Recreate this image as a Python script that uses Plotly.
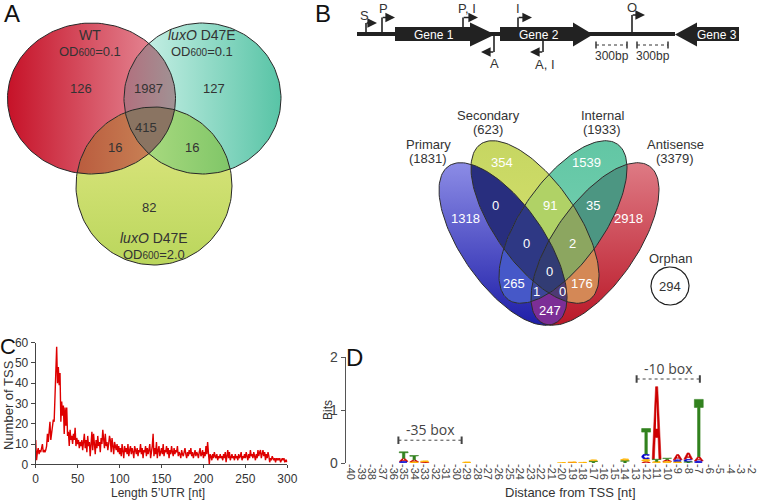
import math
import plotly.graph_objects as go

FONT = "Liberation Sans, Arial, sans-serif"
NARROW = "Liberation Sans Narrow, Arial Narrow, Liberation Sans, sans-serif"

# ---------------- Panel A data ----------------
a_sets = ["WT", "<i>luxO</i> D47E", "<i>luxO</i> D47E"]
a_od = ["0.1", "0.1", "2.0"]
a_region_names = ["WT", "D47E_01", "D47E_20", "WT&D47E_01", "WT&D47E_20", "D47E_01&D47E_20", "all"]
a_region_counts = [126, 127, 82, 1987, 16, 16, 415]

# ---------------- Panel B data ----------------
b_sets = ["Primary", "Secondary", "Internal", "Antisense"]
b_set_sizes = [1831, 623, 1933, 3379]
b_region_names = ["P", "S", "I", "A", "PS", "SI", "IA", "PSI", "SIA", "PSIA",
                  "PI", "SA", "PIA", "PSA", "PA"]
b_region_counts = [1318, 354, 1539, 2918, 0, 91, 35, 0, 2, 0, 265, 176, 1, 0, 247]
b_orphan = 294

# ---------------- Panel C data ----------------
utr_length = list(range(0, 301))
utr_tss = [
    12, 2, 6, 8, 5, 7, 6, 8, 10, 6,
    7, 6, 7, 9, 15, 11, 16, 21, 12, 15,
    20, 22, 21, 38, 44, 58, 40, 48, 39, 45,
    21, 31, 24, 29, 15, 28, 19, 28, 14, 16,
    9, 17, 12, 14, 10, 15, 12, 18, 9, 13,
    10, 12, 8, 11, 9, 12, 7, 10, 15, 8,
    12, 6, 14, 9, 11, 4, 13, 16, 7, 15,
    10, 5, 12, 8, 14, 9, 11, 6, 13, 10,
    17, 12, 8, 15, 9, 11, 7, 10, 14, 12,
    6, 13, 9, 5, 11, 8, 7, 10, 6, 9,
    5, 8, 4, 10, 7, 3, 9, 6, 8, 5,
    10, 4, 7, 9, 5, 8, 6, 3, 9, 7,
    5, 8, 4, 7, 6, 10, 5, 8, 3, 7,
    6, 9, 4, 8, 5, 7, 10, 3, 6, 9,
    15, 4, 8, 5, 11, 3, 7, 9, 4, 6,
    8, 5, 10, 4, 7, 6, 9, 5, 8, 3,
    7, 5, 9, 6, 4, 8, 5, 7, 6, 9,
    4, 6, 5, 3, 7, 5, 4, 6, 8, 5,
    3, 6, 4, 7, 5, 8, 4, 6, 3, 5,
    7, 4, 6, 5, 3, 6, 8, 4, 5, 7,
    3, 6, 4, 9, 5, 11, 3, 0, 5, 4,
    2, 5, 3, 6, 4, 3, 5, 2, 4, 3,
    5, 3, 4, 2, 5, 3, 6, 1, 4, 7,
    3, 6, 2, 4, 5, 3, 4, 2, 5, 3,
    4, 2, 5, 3, 4, 6, 2, 4, 3, 5,
    3, 6, 4, 2, 5, 3, 7, 4, 5, 3,
    6, 4, 2, 5, 3, 7, 4, 6, 7, 3,
    5, 7, 4, 6, 2, 5, 3, 6, 4, 1,
    3, 2, 4, 3, 2, 3, 1, 3, 2, 3,
    2, 3, 1, 2, 3, 2, 3, 1, 2, 2,
    1,
]
c_xticks = [0, 50, 100, 150, 200, 250, 300]
c_yticks = [0, 10, 20, 30, 40, 50, 60]

# ---------------- Panel D data ----------------
d_positions = list(range(-40, 0))
d_tick_labels = [str(p) for p in d_positions]
logo_pos = [-35, -34, -33, -29, -20, -19, -18, -17, -14, -12, -11, -10, -9, -8, -7]
logo_stack = [
    [("C", 0.03), ("A", 0.06), ("T", 0.12)],
    [("G", 0.02), ("A", 0.04), ("T", 0.08)],
    [("A", 0.02), ("G", 0.02)],
    [("G", 0.02)],
    [("G", 0.01)],
    [("A", 0.01), ("G", 0.01)],
    [("G", 0.015)],
    [("T", 0.03), ("G", 0.03)],
    [("T", 0.04), ("G", 0.04)],
    [("A", 0.03), ("G", 0.04), ("C", 0.10), ("T", 0.48)],
    [("G", 0.03), ("T", 0.04), ("A", 1.37)],
    [("G", 0.03), ("A", 0.03), ("T", 0.03)],
    [("G", 0.02), ("C", 0.04), ("A", 0.10)],
    [("T", 0.02), ("C", 0.05), ("A", 0.12)],
    [("C", 0.04), ("A", 0.08), ("T", 1.08)],
]
boxes = [("-35 box", -35.5, -29.5, 0.43), ("-10 box", -12.9, -6.9, 1.585)]

# ================= geometry helpers =================
def ellipse(cx, cy, a, b, theta=0.0, n=160):
    th = math.radians(theta)
    pts = []
    for i in range(n):
        t = 2 * math.pi * i / n
        x = cx + a * math.cos(t) * math.cos(th) - b * math.sin(t) * math.sin(th)
        y = cy + a * math.cos(t) * math.sin(th) + b * math.sin(t) * math.cos(th)
        pts.append((x, y))
    return pts


def _area(poly):
    s = 0
    for i in range(len(poly)):
        x1, y1 = poly[i - 1]
        x2, y2 = poly[i]
        s += x1 * y2 - x2 * y1
    return s


def clip(subject, clipper):
    sgn = 1 if _area(clipper) > 0 else -1
    out = list(subject)
    n = len(clipper)
    for i in range(n):
        a = clipper[i]
        b = clipper[(i + 1) % n]
        inp = out
        out = []
        if not inp:
            break

        def side(p):
            return sgn * ((b[0] - a[0]) * (p[1] - a[1]) - (b[1] - a[1]) * (p[0] - a[0]))

        for j in range(len(inp)):
            cur = inp[j]
            prev = inp[j - 1]
            sc, sp = side(cur), side(prev)
            if sc >= 0:
                if sp < 0:
                    t = sp / (sp - sc)
                    out.append((prev[0] + t * (cur[0] - prev[0]), prev[1] + t * (cur[1] - prev[1])))
                out.append(cur)
            elif sp >= 0:
                t = sp / (sp - sc)
                out.append((prev[0] + t * (cur[0] - prev[0]), prev[1] + t * (cur[1] - prev[1])))
    return out


fig = go.Figure()


def poly_trace(poly, color=None, grad=None, gtype="horizontal", line=None, xa="x", ya="y"):
    xs = [p[0] for p in poly] + [poly[0][0]]
    ys = [p[1] for p in poly] + [poly[0][1]]
    kw = dict(x=xs, y=ys, mode="lines", fill="toself", hoverinfo="skip", showlegend=False,
              xaxis=xa, yaxis=ya)
    if line is None:
        kw["line"] = dict(width=0, color="rgba(0,0,0,0)")
    else:
        kw["line"] = line
    if grad is not None:
        kw["fillgradient"] = dict(type=gtype, colorscale=grad)
    else:
        kw["fillcolor"] = color
    fig.add_trace(go.Scatter(**kw))


def outline(poly, color="rgb(40,40,40)", width=1):
    xs = [p[0] for p in poly] + [poly[0][0]]
    ys = [p[1] for p in poly] + [poly[0][1]]
    fig.add_trace(go.Scatter(x=xs, y=ys, mode="lines", line=dict(color=color, width=width),
                             hoverinfo="skip", showlegend=False))


annotations = []


def txt(x, y, s, size=13, color="#333", family=FONT, angle=0, xref="x", yref="y", xanchor="center"):
    annotations.append(dict(x=x, y=y, xref=xref, yref=yref, text=s, showarrow=False,
                            font=dict(size=size, color=color, family=family), textangle=angle,
                            xanchor=xanchor, yanchor="middle"))


shapes = []


def seg(x0, y0, x1, y1, color="#222", width=1.6, dash=None, xref="x", yref="y"):
    d = dict(type="line", x0=x0, y0=y0, x1=x1, y1=y1, xref=xref, yref=yref,
             line=dict(color=color, width=width))
    if dash:
        d["line"]["dash"] = dash
    shapes.append(d)


# ================= Panel A: 3-set Venn =================
eR = ellipse(91.5, 98.5, 84, 75.5)
eT = ellipse(202.5, 98.5, 78.5, 75.5)
eY = ellipse(154, 186, 78, 79)

poly_trace(eR, grad=[[0, "rgb(198,18,40)"], [1, "rgb(232,150,162)"]])
poly_trace(eT, grad=[[0, "rgb(214,245,238)"], [1, "rgb(88,196,166)"]])
poly_trace(eY, grad=[[0, "rgb(186,214,92)"], [1, "rgb(226,232,132)"]], gtype="vertical")
poly_trace(clip(eR, eT), grad=[[0, "rgb(178,112,126)"], [1, "rgb(160,146,148)"]])
poly_trace(clip(eR, eY), grad=[[0, "rgb(186,92,62)"], [1, "rgb(204,140,92)"]])
poly_trace(clip(eT, eY), grad=[[0, "rgb(178,222,132)"], [1, "rgb(128,198,104)"]])
poly_trace(clip(clip(eR, eT), eY), color="rgb(138,116,98)")
for e in (eR, eT, eY):
    outline(e)

a_label_pos = [(90, 35), (202, 35), (154, 238)]
for (x, y), name, od in zip(a_label_pos, a_sets, a_od):
    txt(x, y, name, size=14)
    txt(x, y + 16, "OD<span style='font-size:10px'>600</span>=" + od, size=13)
a_count_pos = [(81, 88), (214, 88), (149, 207), (148, 88), (115, 147), (192, 147), (146, 127)]
for (x, y), c in zip(a_count_pos, a_region_counts):
    txt(x, y, str(c), size=13)

# ================= Panel B: gene diagram =================
seg(357, 34, 675, 34, width=4)
genes = [
    [(395, 27), (470, 27), (470, 22.5), (495, 34.5), (470, 46.5), (470, 41), (395, 41)],
    [(500, 27), (573, 27), (573, 22.5), (593, 34.5), (573, 46.5), (573, 41), (500, 41)],
    [(739, 27), (697, 27), (697, 22.5), (675, 34.5), (697, 46.5), (697, 41), (739, 41)],
]
for g in genes:
    poly_trace(g, color="rgb(34,34,34)")
for x, s in [(434, "Gene 1"), (539, "Gene 2"), (717, "Gene 3")]:
    txt(x, 34.5, s, size=12, color="white", family=NARROW)

# bent TSS arrows: (x vertical, y base, y top, x arrow end)
tss_up = [(366, 32, 23, 377, "S", 364, 15), (382, 32, 17.5, 395, "P", 383, 8),
          (463, 27, 17.5, 478, "P, I", 467, 8), (518, 27, 17.5, 532, "I", 518, 8),
          (632, 32, 15, 645, "O", 632, 7)]
tss_down = [(494, 36, 52, 481, "A", 494, 63), (543, 41, 52, 530, "A, I", 545, 64)]
for xv, yb, yt, xe, lab, lx, ly in tss_up + tss_down:
    seg(xv, yb, xv, yt)
    annotations.append(dict(x=xe, y=yt, ax=xv - (0.8 if xe > xv else -0.8), ay=yt, xref="x", yref="y",
                            axref="x", ayref="y", text="", showarrow=True, arrowhead=2,
                            arrowsize=1.2, arrowwidth=1.6, arrowcolor="#222", standoff=0))
    txt(lx, ly, lab, size=13, family=NARROW)

for x0, x1 in [(596, 627), (637, 668)]:
    seg(x0, 45, x1, 45, width=1, dash="dot", color="#333")
    seg(x0, 41.5, x0, 48.5, width=1.5, color="#333")
    seg(x1, 41.5, x1, 48.5, width=1.5, color="#333")
    txt((x0 + x1) / 2, 56, "300bp", size=12, family=NARROW)

# ================= Panel B: 4-set Venn =================
eP = ellipse(503, 244, 95, 41, 55)
eS = ellipse(535, 222, 95, 41, 55)
eI = ellipse(563, 222, 95, 41, 125)
eA = ellipse(595, 244, 95, 41, 125)
B = {"P": eP, "S": eS, "I": eI, "A": eA}

b_fill = {
    "P": ([[0, "rgb(30,30,168)"], [1, "rgb(140,140,230)"]], "vertical"),
    "S": ([[0, "rgb(218,228,112)"], [1, "rgb(198,214,98)"]], "vertical"),
    "I": ([[0, "rgb(124,212,182)"], [1, "rgb(98,198,164)"]], "vertical"),
    "A": ([[0, "rgb(186,24,40)"], [1, "rgb(222,122,132)"]], "vertical"),
    "PS": "rgb(40,46,126)", "PI": "rgb(70,88,200)", "PA": "rgb(124,46,150)",
    "SI": "rgb(176,210,102)", "SA": "rgb(212,136,86)", "IA": "rgb(76,150,130)",
    "PSI": "rgb(46,56,132)", "PSA": "rgb(78,58,116)", "PIA": "rgb(60,70,152)",
    "SIA": "rgb(140,166,96)", "PSIA": "rgb(50,60,116)",
}
order = ["P", "S", "I", "A", "PS", "PI", "PA", "SI", "SA", "IA", "PSI", "PSA", "PIA", "SIA", "PSIA"]
for key in order:
    poly = B[key[0]]
    for k in key[1:]:
        poly = clip(poly, B[k])
    if len(poly) < 3:
        continue
    f = b_fill[key]
    if isinstance(f, tuple):
        poly_trace(poly, grad=f[0], gtype=f[1])
    else:
        poly_trace(poly, color=f)
for e in (eP, eS, eI, eA):
    outline(e, color="rgb(45,45,45)")

b_label_pos = [(428, 144), (488, 115), (602, 115), (675, 144)]
for (x, y), name, n in zip(b_label_pos, b_sets, b_set_sizes):
    txt(x, y, name, size=13)
    txt(x, y + 14, "(%d)" % n, size=13)

b_count_pos = {"P": (465, 218), "S": (502, 162), "I": (586, 162), "A": (628, 218),
               "PS": (495, 205), "SI": (550, 205), "IA": (593, 205), "PSI": (526, 243),
               "SIA": (572, 243), "PSIA": (549, 271), "PI": (514, 283), "SA": (582, 283),
               "PIA": (536, 291), "PSA": (562, 291), "PA": (550, 310)}
for name, c in zip(b_region_names, b_region_counts):
    x, y = b_count_pos[name]
    txt(x, y, str(c), size=13, color="white")

outline(ellipse(670, 286, 19, 19), color="rgb(30,30,30)", width=1.2)
txt(670, 258, "Orphan", size=13)
txt(670, 286, str(b_orphan), size=13)

# ================= Panel C: 5'UTR length =================
fig.add_trace(go.Scatter(x=utr_length, y=utr_tss, mode="lines", xaxis="x2", yaxis="y2",
                         line=dict(color="rgb(222,0,0)", width=1.4), showlegend=False,
                         hoverinfo="skip"))
txt(8, 405, "Number of TSS", size=13, angle=-90)
txt(158, 492.5, "Length 5\u2019UTR [nt]", size=12)

# ================= Panel D: sequence logo =================
def glyph(letter):
    if letter == "T":
        return [[(0, 1), (1, 1), (1, 0.86), (0.64, 0.86), (0.64, 0), (0.36, 0), (0.36, 0.86), (0, 0.86)]]
    if letter == "A":
        return [[(0, 0), (0.38, 1), (0.62, 1), (1, 0), (0.76, 0), (0.66, 0.3), (0.34, 0.3), (0.24, 0)]]
    arc = []
    for i in range(0, 29):
        t = math.radians(40 + i * 10)
        arc.append((0.5 + 0.5 * math.cos(t), 0.5 + 0.5 * math.sin(t)))
    for i in range(28, -1, -1):
        t = math.radians(40 + i * 10)
        arc.append((0.5 + 0.27 * math.cos(t), 0.5 + 0.3 * math.sin(t)))
    if letter == "C":
        return [arc]
    return [arc, [(0.55, 0.5), (0.95, 0.5), (0.95, 0.15), (0.8, 0.15), (0.8, 0.35), (0.55, 0.35)]]


letter_colors = {"A": "rgb(204,0,0)", "C": "rgb(0,0,204)", "G": "rgb(255,179,0)", "T": "rgb(50,130,30)"}
paths = {k: ([], []) for k in letter_colors}
holes = ([], [])
W = 0.84
for p, stack in zip(logo_pos, logo_stack):
    y0 = 0.0
    for letter, h in stack:
        for pg in glyph(letter):
            xs, ys = paths[letter]
            for u, v in pg:
                xs.append(p - W / 2 + u * W)
                ys.append(y0 + v * h)
            xs.append(p - W / 2 + pg[0][0] * W)
            ys.append(y0 + pg[0][1] * h)
            xs.append(None)
            ys.append(None)
        if letter == "A":
            for u, v in [(0.41, 0.42), (0.5, 0.8), (0.59, 0.42), (0.41, 0.42)]:
                holes[0].append(p - W / 2 + u * W)
                holes[1].append(y0 + v * h)
            holes[0].append(None)
            holes[1].append(None)
        y0 += h
for k, (xs, ys) in paths.items():
    fig.add_trace(go.Scatter(x=xs, y=ys, mode="lines", fill="toself", fillcolor=letter_colors[k],
                             line=dict(width=0.6, color=letter_colors[k]), xaxis="x3", yaxis="y3",
                             showlegend=False, hoverinfo="skip"))
fig.add_trace(go.Scatter(x=holes[0], y=holes[1], mode="lines", fill="toself", fillcolor="white",
                         line=dict(width=0), xaxis="x3", yaxis="y3", showlegend=False, hoverinfo="skip"))

for lab, x0, x1, yb in boxes:
    seg(x0, yb, x1, yb, width=1, dash="dot", color="#444", xref="x3", yref="y3")
    seg(x0, yb - 0.07, x0, yb + 0.07, width=2, color="#444", xref="x3", yref="y3")
    seg(x1, yb - 0.07, x1, yb + 0.07, width=2, color="#444", xref="x3", yref="y3")
    txt((x0 + x1) / 2, yb + 0.2, lab, size=14, color="#444", family="Open Sans, sans-serif",
        xref="x3", yref="y3")
txt(328, 410, "Bits", size=12, angle=-90)
txt(570, 492, "Distance from TSS [nt]", size=13)

# ================= panel letters =================
for x, y, s, sz in [(12, 13, "A", 24), (323, 13, "B", 24), (8, 346, "C", 22), (354, 357, "D", 24)]:
    txt(x, y, s, size=sz, color="#111")

# ================= layout =================
ax_common = dict(showgrid=False, zeroline=False, fixedrange=True, automargin=False)
fig.update_layout(
    width=765, height=500, margin=dict(l=0, r=0, t=0, b=0, pad=0, autoexpand=False),
    paper_bgcolor="white", plot_bgcolor="rgba(0,0,0,0)",
    font=dict(family=FONT, color="#333"), showlegend=False,
    xaxis=dict(domain=[0, 1], range=[0, 765], visible=False, **ax_common),
    yaxis=dict(domain=[0, 1], range=[500, 0], visible=False, **ax_common),
    xaxis2=dict(domain=[35.7 / 765, 287.3 / 765], range=[0, 300], anchor="y2", tickvals=c_xticks,
                ticks="outside", ticklen=3, tickcolor="#444", showline=True, linecolor="#444",
                linewidth=1, tickfont=dict(size=12, color="#333"), **ax_common),
    yaxis2=dict(domain=[1 - 464.3 / 500, 1 - 342.7 / 500], range=[0, 60], anchor="x2", tickvals=c_yticks,
                ticks="outside", ticklen=4, tickcolor="#444", showline=True, linecolor="#444",
                linewidth=1, tickfont=dict(size=12, color="#333"), **ax_common),
    xaxis3=dict(domain=[345.7 / 765, 1.0], range=[-40.5, -0.72], anchor="y3", tickvals=d_positions,
                ticktext=d_tick_labels, tickangle=90, ticks="", showline=False,
                tickfont=dict(size=11, color="#444"), **ax_common),
    yaxis3=dict(domain=[1 - 463 / 500, 1 - 357 / 500], range=[0, 2], anchor="x3", tickvals=[0, 1, 2],
                ticks="outside", ticklen=4, tickcolor="#555", showline=True, linecolor="#555",
                linewidth=1.2, tickfont=dict(size=14, color="#444"), **ax_common),
    annotations=annotations, shapes=shapes,
)

fig.write_html("out.html", config={"displayModeBar": False, "staticPlot": True},
               post_script="document.body.style.margin='0px';document.body.style.padding='0px';")
